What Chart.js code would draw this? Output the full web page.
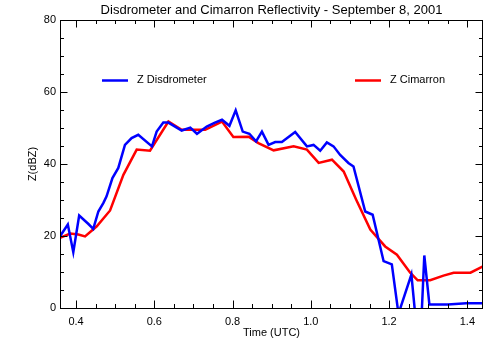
<!DOCTYPE html>
<html>
<head>
<meta charset="utf-8">
<script src="https://cdn.jsdelivr.net/npm/chart.js@4/dist/chart.umd.min.js"></script>
<style>
  html, body { margin: 0; padding: 0; background: #fff; }
</style>
</head>
<body>
<canvas id="myChart" width="501" height="350"></canvas>
<script>
const chartTitle = 'Disdrometer and Cimarron Reflectivity - September 8, 2001'
const seriesNames = ['Z Disdrometer', 'Z Cimarron']

// time in hours UTC, reflectivity in dBZ
const disdroTime = [0.359, 0.379, 0.393, 0.408, 0.431, 0.444, 0.457, 0.470, 0.478, 0.493,
  0.508, 0.525, 0.542, 0.559, 0.594, 0.606, 0.623, 0.636, 0.670, 0.692,
  0.709, 0.734, 0.755, 0.773, 0.792, 0.808, 0.826, 0.843, 0.860, 0.875,
  0.892, 0.909, 0.926, 0.960, 0.990, 1.007, 1.024, 1.041, 1.058, 1.075,
  1.096, 1.109, 1.139, 1.158, 1.186, 1.207, 1.224, 1.257, 1.278, 1.290,
  1.303, 1.350, 1.397, 1.440]
const disdroZ = [19.9, 23.2, 15.5, 25.7, 23.4, 22.0, 26.8, 29.2, 31.0, 36.1,
  38.9, 45.3, 47.2, 48.1, 44.9, 49.0, 51.5, 51.5, 49.3, 50.1,
  48.4, 50.4, 51.5, 52.3, 50.6, 54.9, 49.0, 48.4, 46.3, 49.0,
  45.3, 46.1, 46.1, 48.9, 44.9, 45.3, 43.7, 46.0, 44.9, 42.5,
  40.3, 39.3, 26.8, 25.9, 13.0, 12.1, -1.6, 9.3, -14.5, 14.6,
  1.0, 1.0, 1.3, 1.3]

const cimTime = [0.359, 0.385, 0.406, 0.423, 0.453, 0.487, 0.521, 0.555, 0.589, 0.636,
  0.670, 0.730, 0.773, 0.802, 0.841, 0.866, 0.905, 0.956, 0.990, 1.020,
  1.054, 1.084, 1.116, 1.152, 1.169, 1.190, 1.220, 1.254, 1.273, 1.305,
  1.339, 1.365, 1.408, 1.440]
const cimZ = [19.5, 20.7, 20.4, 19.9, 22.7, 27.1, 37.0, 44.0, 43.7, 51.8,
  49.5, 49.5, 51.8, 47.5, 47.6, 45.8, 43.8, 44.9, 44.0, 40.3,
  41.2, 37.9, 30.1, 21.8, 19.7, 17.1, 14.8, 9.8, 7.7, 7.7,
  9.0, 9.8, 9.8, 11.6]

const xTicks = [0.4, 0.6, 0.8, 1.0, 1.2, 1.4]
const yTicks = [0, 20, 40, 60, 80]
const xMinorStep = 0.05
const yMinorStep = 5

const fontName = '"Liberation Sans", Arial, sans-serif'
Chart.defaults.font.family = fontName
Chart.defaults.color = '#000'

function toPoints(xs, ys) {
  let pts = []
  for (let i = 0; i < xs.length; i++) {
    pts.push({x: xs[i], y: ys[i]})
  }
  return pts
}

// box, inward ticks, title and legend in the IDL style
const idlFrame = {
  id: 'idlFrame',
  afterDraw(chart) {
    let ctx = chart.ctx
    let a = chart.chartArea
    let xs = chart.scales.x
    let ys = chart.scales.y
    ctx.save()
    ctx.strokeStyle = '#000'
    ctx.lineWidth = 1
    ctx.beginPath()
    ctx.rect(a.left + 0.5, a.top + 0.5, a.right - a.left - 1, a.bottom - a.top)

    let xStart = Math.ceil(xs.min / xMinorStep - 1e-6)
    for (let k = xStart; k * xMinorStep <= xs.max + 1e-9; k++) {
      let v = k * xMinorStep
      let major = xTicks.some(t => Math.abs(t - v) < 1e-6)
      let len = major ? 7.5 : 4
      let px = Math.round(xs.getPixelForValue(v)) + 0.5
      ctx.moveTo(px, a.bottom)
      ctx.lineTo(px, a.bottom - len)
      ctx.moveTo(px, a.top)
      ctx.lineTo(px, a.top + len)
    }
    for (let v = ys.min; v <= ys.max + 1e-9; v += yMinorStep) {
      let major = yTicks.indexOf(v) >= 0
      let len = major ? 7.5 : 4
      let py = Math.round(ys.getPixelForValue(v)) + 0.5
      ctx.moveTo(a.left, py)
      ctx.lineTo(a.left + len, py)
      ctx.moveTo(a.right, py)
      ctx.lineTo(a.right - len, py)
    }
    ctx.stroke()

    ctx.fillStyle = '#000'
    ctx.textBaseline = 'middle'
    ctx.textAlign = 'center'
    ctx.font = '13px ' + fontName
    ctx.fillText(chartTitle, (a.left + a.right) / 2, 10)

    // legend
    ctx.textAlign = 'left'
    ctx.font = '11px ' + fontName
    let ly = a.top + 60.5
    let items = [
      {x: a.left + 42, color: '#0000ff', name: seriesNames[0]},
      {x: a.left + 295, color: '#ff0000', name: seriesNames[1]}
    ]
    items.forEach(function(it) {
      ctx.strokeStyle = it.color
      ctx.lineWidth = 2.5
      ctx.beginPath()
      ctx.moveTo(it.x, ly)
      ctx.lineTo(it.x + 26, ly)
      ctx.stroke()
      ctx.fillText(it.name, it.x + 35, ly - 1)
    })
    ctx.restore()
  }
}

let ctx = document.querySelector('#myChart').getContext('2d')
let myChart = new Chart(ctx, {
  type: 'line',
  data: {
    datasets: [
      {
        label: seriesNames[0],
        data: toPoints(disdroTime, disdroZ),
        borderColor: '#0000ff',
        borderWidth: 2.5,
        pointRadius: 0,
        tension: 0,
        fill: false
      },
      {
        label: seriesNames[1],
        data: toPoints(cimTime, cimZ),
        borderColor: '#ff0000',
        borderWidth: 2.5,
        pointRadius: 0,
        tension: 0,
        fill: false
      }
    ]
  },
  options: {
    responsive: false,
    animation: false,
    devicePixelRatio: 1,
    layout: { padding: { top: 20, right: 18, left: 0, bottom: 0 } },
    plugins: {
      legend: { display: false },
      tooltip: { enabled: false }
    },
    scales: {
      x: {
        type: 'linear',
        min: 0.359,
        max: 1.44,
        afterBuildTicks: function(scale) {
          scale.ticks = xTicks.map(v => ({value: v}))
        },
        afterFit: function(scale) { scale.height = 42 },
        grid: { display: false, drawTicks: false },
        border: { display: false },
        ticks: {
          autoSkip: false,
          maxRotation: 0,
          padding: 7,
          font: { size: 11 },
          callback: v => v.toFixed(1)
        },
        title: {
          display: true,
          text: 'Time (UTC)',
          font: { size: 11 },
          padding: { top: 0, bottom: 10 }
        }
      },
      y: {
        type: 'linear',
        min: 0,
        max: 80,
        afterBuildTicks: function(scale) {
          scale.ticks = yTicks.map(v => ({value: v}))
        },
        afterFit: function(scale) { scale.width = 60 },
        grid: { display: false, drawTicks: false },
        border: { display: false },
        ticks: {
          padding: 4,
          font: { size: 11 }
        },
        title: {
          display: true,
          text: 'Z(dBZ)',
          font: { size: 11 },
          padding: { top: 26, bottom: 0 }
        }
      }
    }
  },
  plugins: [idlFrame]
})
</script>
</body>
</html>
